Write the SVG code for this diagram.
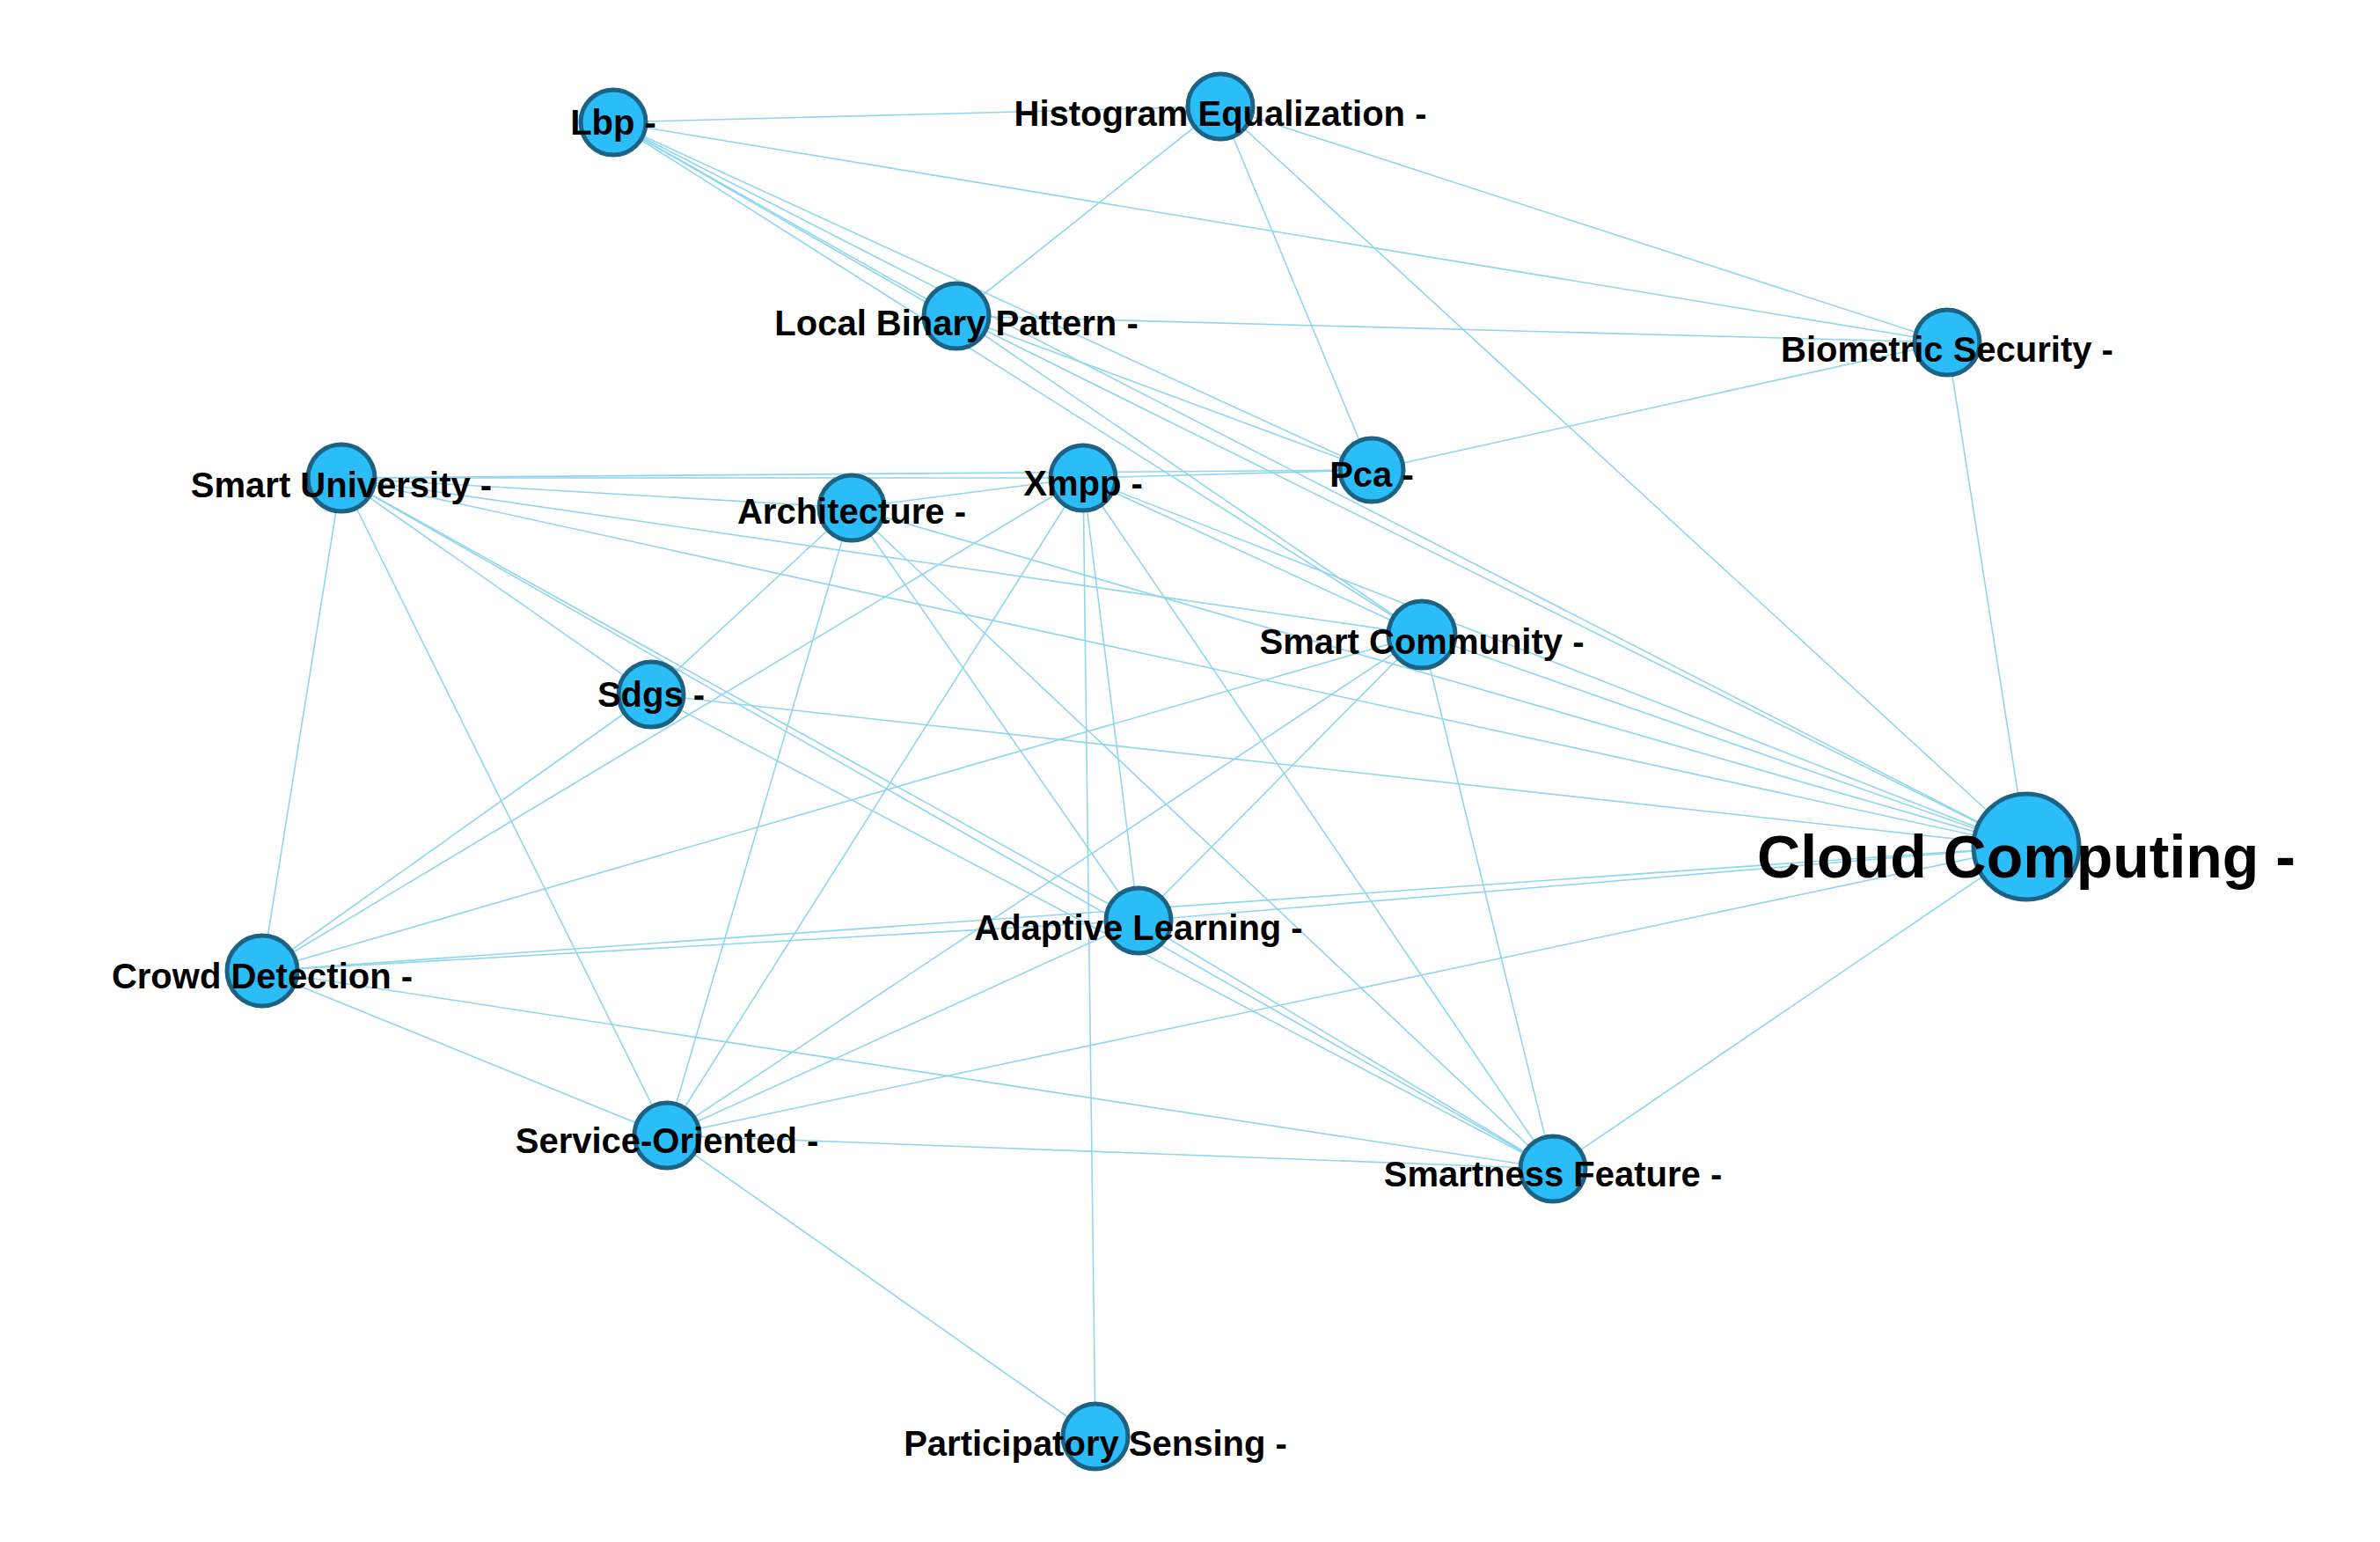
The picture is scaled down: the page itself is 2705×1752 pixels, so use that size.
<svg xmlns="http://www.w3.org/2000/svg" width="2705" height="1752" viewBox="0 0 2705 1752">
<style>
.e{stroke:#8fd6ee;stroke-width:1.6;fill:none}
.n{fill:#2bbdf7;stroke:#1b6284;stroke-width:5}
.t{font-family:"Liberation Sans",Arial,sans-serif;font-weight:bold;font-size:40px;fill:#000;text-anchor:middle}
.big{font-size:68px}
</style>
<rect width="2705" height="1752" fill="#fff"/>
<g id="connectors">
<line class="e" x1="697" y1="139" x2="1387" y2="121"/>
<line class="e" x1="697" y1="139" x2="1087" y2="359"/>
<line class="e" x1="697" y1="139" x2="1092" y2="366"/>
<line class="e" x1="697" y1="139" x2="1559" y2="534"/>
<line class="e" x1="697" y1="139" x2="2213" y2="389"/>
<line class="e" x1="697" y1="139" x2="1616" y2="721"/>
<line class="e" x1="697" y1="139" x2="2303" y2="962"/>
<line class="e" x1="1387" y1="121" x2="1087" y2="359"/>
<line class="e" x1="1387" y1="121" x2="1559" y2="534"/>
<line class="e" x1="1387" y1="121" x2="2213" y2="389"/>
<line class="e" x1="1387" y1="121" x2="2303" y2="962"/>
<line class="e" x1="1087" y1="359" x2="2213" y2="389"/>
<line class="e" x1="1087" y1="359" x2="1559" y2="534"/>
<line class="e" x1="1087" y1="359" x2="1616" y2="721"/>
<line class="e" x1="1087" y1="359" x2="2303" y2="962"/>
<line class="e" x1="2213" y1="389" x2="1559" y2="534"/>
<line class="e" x1="2213" y1="389" x2="2303" y2="962"/>
<line class="e" x1="388" y1="543" x2="1231" y2="543"/>
<line class="e" x1="388" y1="543" x2="1559" y2="534"/>
<line class="e" x1="388" y1="543" x2="968" y2="577"/>
<line class="e" x1="388" y1="543" x2="1616" y2="721"/>
<line class="e" x1="388" y1="543" x2="2303" y2="962"/>
<line class="e" x1="388" y1="543" x2="740" y2="789"/>
<line class="e" x1="388" y1="543" x2="1294" y2="1046"/>
<line class="e" x1="388" y1="543" x2="298" y2="1103"/>
<line class="e" x1="388" y1="543" x2="758" y2="1290"/>
<line class="e" x1="388" y1="543" x2="1765" y2="1328"/>
<line class="e" x1="968" y1="577" x2="1231" y2="543"/>
<line class="e" x1="968" y1="577" x2="740" y2="789"/>
<line class="e" x1="968" y1="577" x2="758" y2="1290"/>
<line class="e" x1="968" y1="577" x2="1765" y2="1328"/>
<line class="e" x1="968" y1="577" x2="2303" y2="962"/>
<line class="e" x1="968" y1="577" x2="1294" y2="1046"/>
<line class="e" x1="1231" y1="543" x2="1616" y2="721"/>
<line class="e" x1="1231" y1="543" x2="2303" y2="962"/>
<line class="e" x1="1231" y1="543" x2="1294" y2="1046"/>
<line class="e" x1="1231" y1="543" x2="1245" y2="1632"/>
<line class="e" x1="1231" y1="543" x2="758" y2="1290"/>
<line class="e" x1="1231" y1="543" x2="298" y2="1103"/>
<line class="e" x1="1231" y1="543" x2="1765" y2="1328"/>
<line class="e" x1="1231" y1="543" x2="1559" y2="534"/>
<line class="e" x1="1616" y1="721" x2="298" y2="1103"/>
<line class="e" x1="1616" y1="721" x2="758" y2="1290"/>
<line class="e" x1="1616" y1="721" x2="1294" y2="1046"/>
<line class="e" x1="1616" y1="721" x2="1765" y2="1328"/>
<line class="e" x1="1616" y1="721" x2="2303" y2="962"/>
<line class="e" x1="740" y1="789" x2="2303" y2="962"/>
<line class="e" x1="740" y1="789" x2="1765" y2="1328"/>
<line class="e" x1="740" y1="789" x2="298" y2="1103"/>
<line class="e" x1="2303" y1="962" x2="1294" y2="1046"/>
<line class="e" x1="2303" y1="962" x2="298" y2="1103"/>
<line class="e" x1="2303" y1="962" x2="758" y2="1290"/>
<line class="e" x1="2303" y1="962" x2="1765" y2="1328"/>
<line class="e" x1="1294" y1="1046" x2="298" y2="1103"/>
<line class="e" x1="1294" y1="1046" x2="758" y2="1290"/>
<line class="e" x1="1294" y1="1046" x2="1765" y2="1328"/>
<line class="e" x1="298" y1="1103" x2="758" y2="1290"/>
<line class="e" x1="298" y1="1103" x2="1765" y2="1328"/>
<line class="e" x1="758" y1="1290" x2="1765" y2="1328"/>
<line class="e" x1="758" y1="1290" x2="1245" y2="1632"/>
</g>
<g id="lbp"><circle class="n" cx="697" cy="139" r="37"/><text class="t" x="697" y="153">Lbp -</text></g>
<g id="histogram-equalization"><circle class="n" cx="1387" cy="121" r="37"/><text class="t" x="1387" y="143">Histogram Equalization -</text></g>
<g id="local-binary-pattern"><circle class="n" cx="1087" cy="359" r="37"/><text class="t" x="1087" y="381">Local Binary Pattern -</text></g>
<g id="biometric-security"><circle class="n" cx="2213" cy="389" r="37"/><text class="t" x="2213" y="411">Biometric Security -</text></g>
<g id="smart-university"><circle class="n" cx="388" cy="543" r="38"/><text class="t" x="388" y="565">Smart University -</text></g>
<g id="architecture"><circle class="n" cx="968" cy="577" r="37"/><text class="t" x="968" y="595">Architecture -</text></g>
<g id="xmpp"><circle class="n" cx="1231" cy="543" r="37"/><text class="t" x="1231" y="563">Xmpp -</text></g>
<g id="pca"><circle class="n" cx="1559" cy="534" r="36"/><text class="t" x="1559" y="553">Pca -</text></g>
<g id="smart-community"><circle class="n" cx="1616" cy="721" r="38"/><text class="t" x="1616" y="743">Smart Community -</text></g>
<g id="sdgs"><circle class="n" cx="740" cy="789" r="37"/><text class="t" x="740" y="803">Sdgs -</text></g>
<g id="cloud-computing"><circle class="n" cx="2303" cy="962" r="60"/><text class="t big" x="2303" y="997">Cloud Computing -</text></g>
<g id="adaptive-learning"><circle class="n" cx="1294" cy="1046" r="37"/><text class="t" x="1294" y="1068">Adaptive Learning -</text></g>
<g id="crowd-detection"><circle class="n" cx="298" cy="1103" r="40"/><text class="t" x="298" y="1123">Crowd Detection -</text></g>
<g id="service-oriented"><circle class="n" cx="758" cy="1290" r="37"/><text class="t" x="758" y="1310">Service-Oriented -</text></g>
<g id="smartness-feature"><circle class="n" cx="1765" cy="1328" r="37"/><text class="t" x="1765" y="1348">Smartness Feature -</text></g>
<g id="participatory-sensing"><circle class="n" cx="1245" cy="1632" r="37"/><text class="t" x="1245" y="1654">Participatory Sensing -</text></g>
</svg>
